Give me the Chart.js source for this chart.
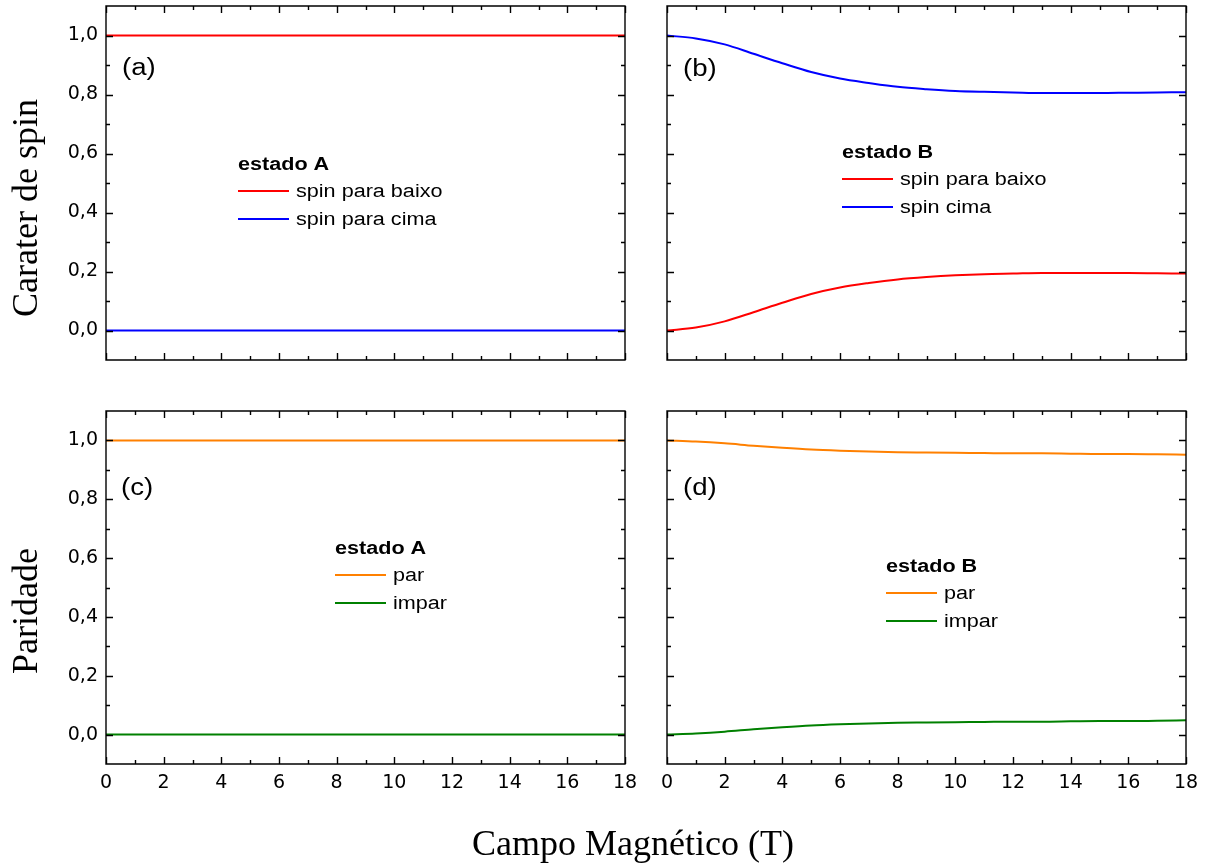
<!DOCTYPE html>
<html>
<head>
<meta charset="utf-8">
<script src="https://cdn.jsdelivr.net/npm/chart.js@4.4.1/dist/chart.umd.min.js"></script>
<style>
body { margin: 0; background: #fff; width: 1210px; height: 866px; position: relative; overflow: hidden; }
canvas { position: absolute; }
.axTitle { position: absolute; font-family: 'Liberation Serif', 'Times New Roman', serif; font-size: 36px; line-height: 36px; color: #000; white-space: nowrap; }
.rot { transform: translate(-50%, -50%) rotate(-90deg); }
.hor { transform: translate(-50%, 0); }
</style>
</head>
<body>
<canvas id="chartA" width="640" height="390" style="left:0;top:0"></canvas>
<canvas id="chartB" width="570" height="390" style="left:640px;top:0"></canvas>
<canvas id="chartC" width="640" height="476" style="left:0;top:390px"></canvas>
<canvas id="chartD" width="570" height="476" style="left:640px;top:390px"></canvas>
<div class="axTitle rot" style="left:25px;top:208px">Carater de spin</div>
<div class="axTitle rot" style="left:25px;top:611px">Paridade</div>
<div class="axTitle hor" style="left:633px;top:825px">Campo Magnético (T)</div>
<script>
// campo magnético (T)
const campo = [0, 1, 2, 3, 4, 5, 6, 7, 8, 9, 10, 11, 12, 13, 14, 15, 16, 17, 18]

// estado A
const aSpinBaixo = [1, 1, 1, 1, 1, 1, 1, 1, 1, 1, 1, 1, 1, 1, 1, 1, 1, 1, 1]
const aSpinCima = [0, 0, 0, 0, 0, 0, 0, 0, 0, 0, 0, 0, 0, 0, 0, 0, 0, 0, 0]
const aPar = [1, 1, 1, 1, 1, 1, 1, 1, 1, 1, 1, 1, 1, 1, 1, 1, 1, 1, 1]
const aImpar = [0, 0, 0, 0, 0, 0, 0, 0, 0, 0, 0, 0, 0, 0, 0, 0, 0, 0, 0]

// estado B
const bSpinBaixo = [0.000, 0.010, 0.031, 0.062, 0.094, 0.124, 0.146, 0.161, 0.173, 0.181, 0.187, 0.191, 0.193, 0.195, 0.195, 0.195, 0.195, 0.194, 0.193]
const bSpinCima = [1.000, 0.990, 0.970, 0.938, 0.906, 0.876, 0.854, 0.839, 0.826, 0.818, 0.812, 0.809, 0.807, 0.805, 0.805, 0.805, 0.806, 0.807, 0.808]
const bPar = [1.000, 0.996, 0.990, 0.982, 0.975, 0.969, 0.965, 0.962, 0.960, 0.959, 0.958, 0.957, 0.956, 0.956, 0.955, 0.954, 0.954, 0.953, 0.951]
const bImpar = [0.000, 0.004, 0.010, 0.018, 0.025, 0.031, 0.035, 0.038, 0.040, 0.041, 0.042, 0.043, 0.044, 0.044, 0.045, 0.046, 0.046, 0.047, 0.049]

// ticks
const xTicks = [0, 2, 4, 6, 8, 10, 12, 14, 16, 18]
const xMinor = [1, 3, 5, 7, 9, 11, 13, 15, 17]
const yTicks = [0, 0.2, 0.4, 0.6, 0.8, 1.0]
const yMinor = [0.1, 0.3, 0.5, 0.7, 0.9]

const toPoints = (arr) => campo.map((c, i) => ({ x: c, y: arr[i] }))

const line = (label, arr, color) => ({
    label: label,
    data: toPoints(arr),
    borderColor: color,
    backgroundColor: color,
    borderWidth: 2,
    pointRadius: 0,
    cubicInterpolationMode: 'monotone',
    fill: false
})

// text in the original is a bit wider than Arial
const wideText = (ctx, text, x, y) => {
    ctx.save()
    ctx.translate(x, y)
    ctx.scale(1.2, 1)
    ctx.fillText(text, 0, 0)
    ctx.restore()
}

const panelDecor = {
    id: 'panelDecor',
    afterDatasetsDraw(chart, args, opts) {
        const { ctx, chartArea: a, scales: { x, y } } = chart
        ctx.save()
        ctx.strokeStyle = '#000'
        ctx.lineWidth = 1.4
        ctx.beginPath()
        ctx.rect(a.left, a.top, a.right - a.left, a.bottom - a.top)
        const xt = (vals, len) => vals.forEach((v) => {
            const px = Math.round(x.getPixelForValue(v)) + 0.5
            ctx.moveTo(px, a.bottom); ctx.lineTo(px, a.bottom - len)
            ctx.moveTo(px, a.top); ctx.lineTo(px, a.top + len)
        })
        const yt = (vals, len) => vals.forEach((v) => {
            const py = Math.round(y.getPixelForValue(v)) + 0.5
            ctx.moveTo(a.left, py); ctx.lineTo(a.left + len, py)
            ctx.moveTo(a.right, py); ctx.lineTo(a.right - len, py)
        })
        xt(xTicks, 7); xt(xMinor, 4)
        yt(yTicks, 7); yt(yMinor, 4)
        ctx.stroke()

        // panel letter
        ctx.fillStyle = '#000'
        ctx.font = '23px "Liberation Sans", Arial, sans-serif'
        ctx.textAlign = 'left'
        ctx.textBaseline = 'middle'
        wideText(ctx, opts.tag, opts.tagX, opts.tagY)

        // legend
        const lg = opts.legend
        ctx.font = 'bold 18px "Liberation Sans", Arial, sans-serif'
        wideText(ctx, lg.title, lg.x, lg.y)
        ctx.font = '18px "Liberation Sans", Arial, sans-serif'
        chart.data.datasets.forEach((ds, i) => {
            const ly = lg.y + 26 + i * 28
            ctx.strokeStyle = ds.borderColor
            ctx.lineWidth = 2
            ctx.beginPath()
            ctx.moveTo(lg.x, ly); ctx.lineTo(lg.x + 51, ly)
            ctx.stroke()
            wideText(ctx, ds.label, lg.x + 58, ly + 1)
        })
        ctx.restore()
    }
}

const tickFont = { family: '"DejaVu Sans", "Liberation Sans", Arial, sans-serif', size: 19 }

const noPad = (s) => {
    s.paddingTop = 0
    s.paddingBottom = 0
    s.paddingLeft = 0
    s.paddingRight = 0
}

function makePanel(id, datasets, o) {
    return new Chart(document.getElementById(id), {
        type: 'line',
        data: { datasets: datasets },
        plugins: [panelDecor],
        options: {
            responsive: false,
            animation: false,
            layout: { padding: { left: 0, right: o.padRight, top: o.padTop, bottom: 0 } },
            plugins: {
                legend: { display: false },
                tooltip: { enabled: false },
                panelDecor: { tag: o.tag, tagX: o.tagX, tagY: o.tagY, legend: o.legend }
            },
            scales: {
                x: {
                    type: 'linear',
                    min: 0,
                    max: 18,
                    grid: { display: false, drawTicks: false },
                    border: { display: false },
                    afterBuildTicks: (s) => { s.ticks = xTicks.map((v) => ({ value: v })) },
                    afterFit: (s) => { s.height = o.xHeight; noPad(s) },
                    ticks: { display: o.showX, color: '#000', font: tickFont, padding: 8, maxRotation: 0, autoSkip: false }
                },
                y: {
                    type: 'linear',
                    min: -0.1,
                    max: 1.1,
                    grid: { display: false, drawTicks: false },
                    border: { display: false },
                    afterBuildTicks: (s) => { s.ticks = yTicks.map((v) => ({ value: v })) },
                    afterFit: (s) => { s.width = o.yWidth; noPad(s) },
                    ticks: {
                        display: o.showY,
                        color: '#000',
                        font: tickFont,
                        padding: 8,
                        callback: (v) => v.toFixed(1).replace('.', ',')
                    }
                }
            }
        }
    })
}

makePanel('chartA', [
    line('spin para baixo', aSpinBaixo, '#ff0000'),
    line('spin para cima', aSpinCima, '#0000ff')
], { padRight: 15, padTop: 6, xHeight: 30, yWidth: 106, showX: false, showY: true,
    tag: '(a)', tagX: 122, tagY: 69, legend: { title: 'estado A', x: 238, y: 165 } })

makePanel('chartB', [
    line('spin para baixo', bSpinBaixo, '#ff0000'),
    line('spin cima', bSpinCima, '#0000ff')
], { padRight: 24, padTop: 6, xHeight: 30, yWidth: 27, showX: false, showY: false,
    tag: '(b)', tagX: 43, tagY: 70, legend: { title: 'estado B', x: 202, y: 153 } })

makePanel('chartC', [
    line('par', aPar, '#ff8000'),
    line('impar', aImpar, '#008000')
], { padRight: 15, padTop: 21, xHeight: 102, yWidth: 106, showX: true, showY: true,
    tag: '(c)', tagX: 121, tagY: 99, legend: { title: 'estado A', x: 335, y: 159 } })

makePanel('chartD', [
    line('par', bPar, '#ff8000'),
    line('impar', bImpar, '#008000')
], { padRight: 24, padTop: 21, xHeight: 102, yWidth: 27, showX: true, showY: false,
    tag: '(d)', tagX: 43, tagY: 99, legend: { title: 'estado B', x: 246, y: 177 } })
</script>
</body>
</html>
